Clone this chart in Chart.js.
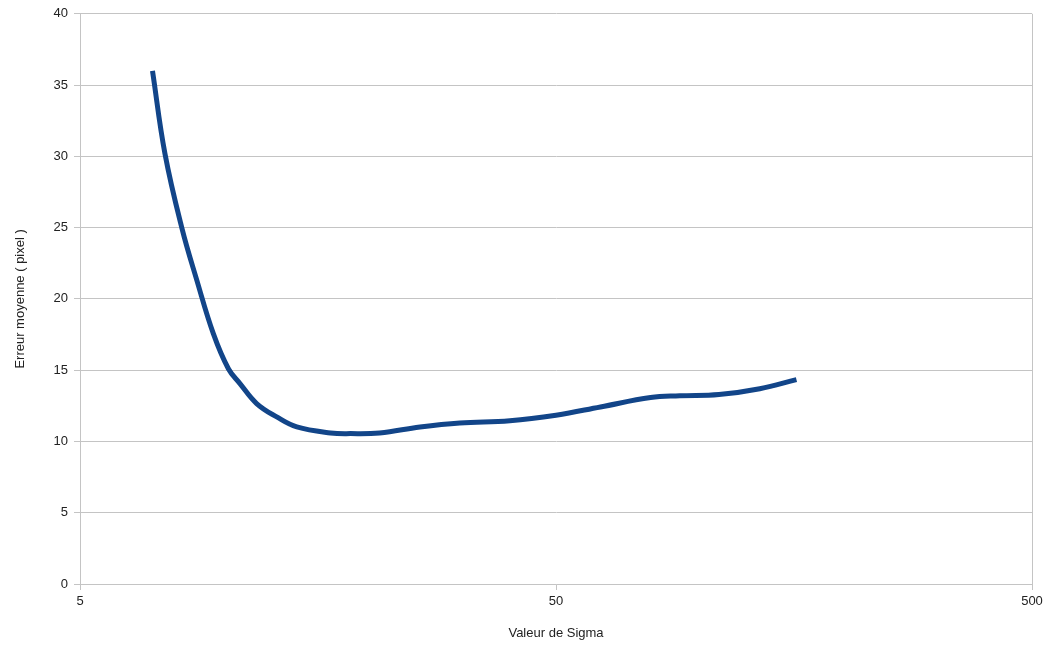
<!DOCTYPE html>
<html>
<head>
<meta charset="utf-8">
<script src="https://cdn.jsdelivr.net/npm/chart.js@4"></script>
<style>
  body { margin: 0; background: #fff; }
  #wrap { width: 1044px; height: 645px; }
</style>
</head>
<body>
<div id="wrap"><canvas id="myChart" width="1044" height="645"></canvas></div>
<script>
const sigma = [7.1, 7.54, 8.18, 8.8, 9.53, 10.25, 10.84, 11.75, 12.95, 14.27, 16.8, 18.5, 21.3, 25.9, 31.4, 40, 50, 62, 79, 91, 110, 134, 160];
const erreur = [36.0, 30.2, 25.0, 21.3, 17.56, 15.1, 14.06, 12.66, 11.72, 11.02, 10.6, 10.55, 10.6, 11.02, 11.3, 11.45, 11.84, 12.42, 13.08, 13.2, 13.29, 13.7, 14.34];
const xTicks = [5, 50, 500];

const gridColor = '#c4c4c4';
const ctx = document.getElementById('myChart');

new Chart(ctx, {
  type: 'line',
  data: {
    datasets: [{
      data: sigma.map((s, i) => ({ x: s, y: erreur[i] })),
      borderColor: '#124589',
      borderWidth: 5,
      pointRadius: 0,
      tension: 0.4,
      fill: false
    }]
  },
  options: {
    responsive: false,
    animation: false,
    layout: { padding: { top: 13, right: 12, left: 9, bottom: 0 } },
    plugins: {
      legend: { display: false },
      tooltip: { enabled: false }
    },
    scales: {
      x: {
        type: 'logarithmic',
        min: 5,
        max: 500,
        afterBuildTicks: (scale) => {
          scale.ticks = xTicks.map(v => ({ value: v }));
        },
        afterFit: (scale) => {
          scale.height = 61;
          scale.paddingRight = 0;
          scale.paddingLeft = 0;
        },
        grid: {
          color: (c) => c.index === 2 ? gridColor : 'rgba(0,0,0,0)',
          tickColor: gridColor,
          tickLength: 6
        },
        border: { color: gridColor },
        ticks: {
          color: '#222',
          font: { family: 'Liberation Sans', size: 13 },
          maxRotation: 0,
          padding: 4,
          callback: (v) => String(v)
        },
        title: {
          display: true,
          text: 'Valeur de Sigma',
          color: '#222',
          font: { family: 'Liberation Sans', size: 13 },
          padding: { top: 18 }
        }
      },
      y: {
        min: 0,
        max: 40,
        afterFit: (scale) => { scale.width = 71; },
        grid: {
          color: gridColor,
          tickColor: gridColor,
          tickLength: 6
        },
        border: { color: gridColor },
        ticks: {
          stepSize: 5,
          color: '#222',
          font: { family: 'Liberation Sans', size: 13 },
          padding: 6
        },
        title: {
          display: true,
          text: 'Erreur moyenne ( pixel )',
          color: '#222',
          font: { family: 'Liberation Sans', size: 13 },
          padding: { bottom: 12 }
        }
      }
    }
  }
});
</script>
</body>
</html>
